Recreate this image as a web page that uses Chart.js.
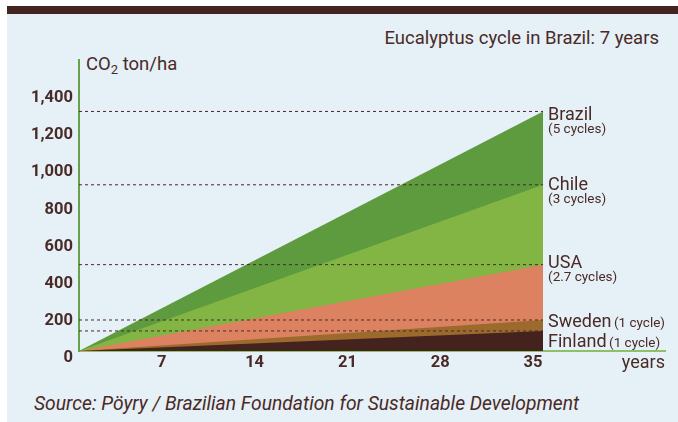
<!DOCTYPE html>
<html>
<head>
<meta charset="utf-8">
<script src="https://cdn.jsdelivr.net/npm/chart.js@4/dist/chart.umd.min.js"></script>
<style>
  body { margin: 0; width: 678px; height: 422px; overflow: hidden; background: #fff; font-family: Roboto, "Liberation Sans", sans-serif; color: #4a2a26; }
  #bar { position: absolute; left: 7px; top: 6px; width: 671px; height: 8px; background: #44241e; }
  #panel { position: absolute; left: 7px; top: 14px; width: 671px; height: 408px; background: #e5f0f7; }
  #chart { position: absolute; left: 0; top: 0; }
  .txt { position: absolute; white-space: nowrap; line-height: 1.2; }
  #title { right: 19px; top: 27px; font-size: 18.5px; }
  #unit { left: 86px; top: 53px; font-size: 18.5px; }
  #unit sub { font-size: 13px; vertical-align: -4px; line-height: 0; }
  #source { left: 34px; top: 392px; font-size: 19.3px; font-style: italic; }
</style>
</head>
<body>
<div id="bar"></div>
<div id="panel"></div>
<div class="txt" id="title">Eucalyptus cycle in Brazil: 7 years</div>
<div class="txt" id="unit">CO<sub>2</sub> ton/ha</div>
<div class="txt" id="source">Source: Pöyry / Brazilian Foundation for Sustainable Development</div>
<canvas id="chart" width="678" height="422"></canvas>
<script>
// years of growth, start and end of each triangle
const years = [0, 35];
const countries = ['Brazil', 'Chile', 'USA', 'Sweden', 'Finland'];
const cycles = ['(5 cycles)', '(3 cycles)', '(2.7 cycles)', '(1 cycle)', '(1 cycle)'];
// CO2 ton/ha accumulated after 35 years
const co2At35 = [1290, 895, 465, 167, 108];
const yTicks = [0, 200, 400, 600, 800, 1000, 1200, 1400];
const xTicks = [7, 14, 21, 28, 35];

const fills = ['#5e9a3e', '#82b543', '#dc8260', '#9c6a2c', '#44221d'];
const textColor = '#4a2a26';
// small vertical nudges for the right-hand labels
const labelNudge = [4, 1, -1, 3, 12];
const inline = [false, false, false, true, true];

const dashSets = co2At35.map(v => ({
  type: 'line',
  data: [{ x: years[0], y: v }, { x: years[1], y: v }],
  borderColor: '#4a2a26',
  borderWidth: 1,
  borderDash: [3, 3],
  pointRadius: 0,
  fill: false
}));

// smaller areas first so they end up on top
const areaSets = co2At35.map((v, i) => ({
  type: 'line',
  label: countries[i],
  data: [{ x: years[0], y: 0 }, { x: years[1], y: v }],
  backgroundColor: fills[i],
  borderWidth: 0,
  pointRadius: 0,
  tension: 0,
  fill: 'origin'
})).reverse();

const sideLabels = {
  id: 'sideLabels',
  afterDraw(chart) {
    const ctx = chart.ctx;
    const xs = chart.scales.x, ys = chart.scales.y;
    ctx.save();
    ctx.fillStyle = textColor;
    ctx.textBaseline = 'middle';
    ctx.textAlign = 'left';
    co2At35.forEach((v, i) => {
      const x = xs.getPixelForValue(years[1]) + 5;
      const y = ys.getPixelForValue(v) + labelNudge[i];
      ctx.font = '18px Roboto';
      ctx.fillText(countries[i], x, y);
      const w = ctx.measureText(countries[i] + ' ').width;
      ctx.font = '13.5px Roboto';
      if (inline[i]) ctx.fillText(cycles[i], x + w - 2, y + 1);
      else ctx.fillText(cycles[i], x, y + 14);
    });
    ctx.font = '18px Roboto';
    ctx.textAlign = 'right';
    ctx.fillText('years', xs.right, 363);
    ctx.restore();
  }
};

new Chart(document.getElementById('chart'), {
  type: 'line',
  data: { datasets: dashSets.concat(areaSets) },
  options: {
    responsive: false,
    animation: false,
    layout: { padding: { top: 60, right: 13, bottom: 0, left: 0 } },
    plugins: { legend: { display: false }, tooltip: { enabled: false } },
    scales: {
      x: {
        type: 'linear',
        min: 0,
        max: 44.2,
        afterFit: s => { s.height = 71; },
        afterBuildTicks: s => { s.ticks = xTicks.map(v => ({ value: v })); },
        grid: { display: false, drawTicks: false },
        border: { color: '#8cc06a', width: 2 },
        ticks: { padding: 2, labelOffset: -10, color: textColor, font: { family: 'Roboto', size: 16.5, weight: 'bold' } }
      },
      y: {
        min: 0,
        max: 1567,
        afterFit: s => { s.width = 79; },
        afterBuildTicks: s => { s.ticks = yTicks.map(v => ({ value: v })); },
        grid: { display: false, drawTicks: false },
        border: { color: '#68a04b', width: 2 },
        ticks: { padding: 6, labelOffset: 7, color: textColor, font: { family: 'Roboto', size: 16.5, weight: 'bold' } }
      }
    }
  },
  plugins: [sideLabels]
});
</script>
</body>
</html>
